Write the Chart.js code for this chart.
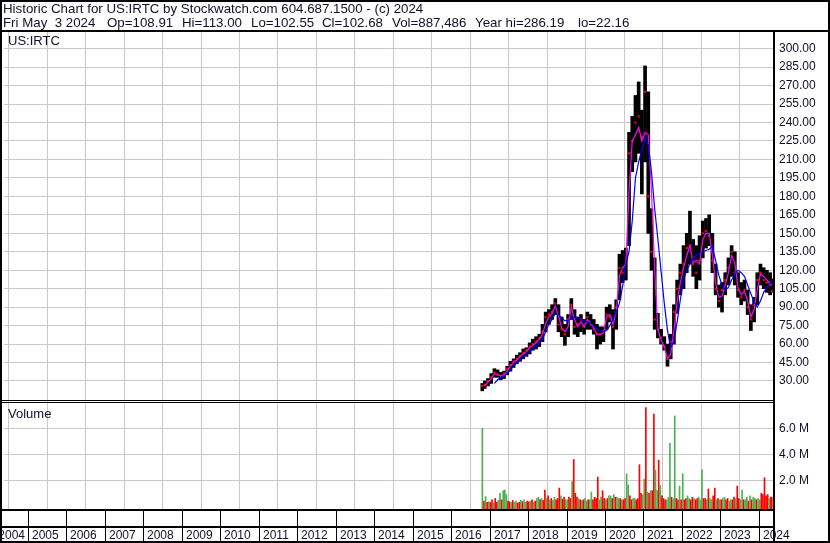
<!DOCTYPE html>
<html><head><meta charset="utf-8">
<script src="https://cdn.jsdelivr.net/npm/chart.js@4.4.1/dist/chart.umd.min.js"></script>
<style>
html,body{margin:0;padding:0;background:#fff;}
#wrap{position:relative;width:830px;height:543px;overflow:hidden;background:#fff;}
#c{position:absolute;left:0;top:0;}
.t{position:absolute;font-family:"Liberation Sans",Arial,sans-serif;font-size:13.3px;line-height:15px;color:#101028;white-space:pre;}
</style></head><body>
<div id="wrap">
<canvas id="c" width="830" height="543" style="width:830px;height:543px"></canvas>
<div class="t" style="left:3px;top:1px">Historic Chart for US:IRTC by Stockwatch.com 604.687.1500 - (c) 2024</div>
<div class="t" style="left:3px;top:15px">Fri May  3 2024</div>
<div class="t" style="left:107px;top:15px">Op=108.91</div>
<div class="t" style="left:182px;top:15px">Hi=113.00</div>
<div class="t" style="left:251px;top:15px">Lo=102.55</div>
<div class="t" style="left:322px;top:15px">Cl=102.68</div>
<div class="t" style="left:392px;top:15px">Vol=887,486</div>
<div class="t" style="left:475px;top:15px">Year hi=286.19</div>
<div class="t" style="left:578px;top:15px">lo=22.16</div>
<div class="t" style="left:8px;top:33px;font-size:13px">US:IRTC</div>
<div class="t" style="left:8px;top:406px;font-size:13px">Volume</div>
</div>
<script>
// ---- categories ----
const months = [
 "2016-10","2016-11","2016-12",
 "2017-01","2017-02","2017-03","2017-04","2017-05","2017-06","2017-07","2017-08","2017-09","2017-10","2017-11","2017-12",
 "2018-01","2018-02","2018-03","2018-04","2018-05","2018-06","2018-07","2018-08","2018-09","2018-10","2018-11","2018-12",
 "2019-01","2019-02","2019-03","2019-04","2019-05","2019-06","2019-07","2019-08","2019-09","2019-10","2019-11","2019-12",
 "2020-01","2020-02","2020-03","2020-04","2020-05","2020-06","2020-07","2020-08","2020-09","2020-10","2020-11","2020-12",
 "2021-01","2021-02","2021-03","2021-04","2021-05","2021-06","2021-07","2021-08","2021-09","2021-10","2021-11","2021-12",
 "2022-01","2022-02","2022-03","2022-04","2022-05","2022-06","2022-07","2022-08","2022-09","2022-10","2022-11","2022-12",
 "2023-01","2023-02","2023-03","2023-04","2023-05","2023-06","2023-07","2023-08","2023-09","2023-10","2023-11","2023-12",
 "2024-01","2024-02","2024-03","2024-04","2024-05"];
const firstDay = 2016.80;   // first trading day (Oct 2016)
const lastDay = 2024.336;   // May 3 2024
const yearLabels = ["2004","2005","2006","2007","2008","2009","2010","2011","2012","2013","2014","2015","2016","2017","2018","2019","2020","2021","2022","2023","2024"];
const priceTicks = [30,45,60,75,90,105,120,135,150,165,180,195,210,225,240,255,270,285,300];
const volumeTicks = [2,4,6];

// ---- monthly price range ----
const priceLow = [
 22,24,26,
 28,33,33,31,32,35,38,41,44,46,48,50,
 52,55,56,58,62,70,76,80,84,70,66,59,
 66,80,68,66,70,68,72,72,68,56,60,62,
 72,78,56,72,96,110,112,140,200,208,215,182,
 208,150,120,72,65,60,55,42,48,60,85,100,
 105,118,125,115,105,112,130,138,140,118,100,90,
 86,100,108,115,108,98,92,95,84,71,78,92,
 108,105,102,100,102];
const priceHigh = [
 28,30,32,
 36,40,39,37,38,42,46,48,51,53,56,57,
 61,64,66,68,76,86,88,92,97,92,82,76,
 84,97,88,82,84,80,86,84,80,76,74,74,
 90,92,88,96,133,136,138,232,245,262,273,250,
 286,265,170,130,85,72,66,60,68,92,112,125,
 140,150,168,145,140,148,160,162,165,150,125,108,
 110,118,130,140,135,118,110,112,104,92,98,118,
 125,122,120,118,113];
const priceClose = [
 26,27,30,
 33,37,35,34,36,40,43,46,48,50,53,55,
 58,60,62,65,70,82,84,86,93,76,72,68,
 80,92,74,76,80,74,82,76,72,68,68,70,
 84,82,74,90,122,118,125,215,225,240,245,228,
 265,180,135,80,72,65,58,48,62,86,105,118,
 125,138,140,125,118,128,150,152,148,128,105,95,
 104,112,122,135,118,104,98,104,90,80,92,112,
 118,112,110,108,103];
// ---- moving averages (magenta = short, blue = long) ----
const maShort = [
 null,26,29,
 32,36,35.5,34,35,38,42,45,47,50,52,54,
 57,59,61,64,68,77,82,85,91,83,73,70,
 74,90,80,74,78,74,80,77,73,68,68,69,
 82,84,76,86,115,122,125,185,225,230,236,225,
 232,230,185,120,72,63,58,48,52,71,95,110,
 122,132,140,126,128,125,145,150,150,132,110,98,
 99,108,118,132,126,106,100,103,95,82,88,104,
 117,115,112,109,108];
const maLong = [
 null,null,null,
 null,28,31,33,34,36,39,42,45,47,50,51,
 54,56,58,61,64,70,76,80,85,84,81,79,
 79,81,82,81,80,79,78,77,75,72,71,70,
 71,75,80,86,93,107,125,135,160,195,208,218,
 227,222,200,170,145,119,93,71,57,62,78,96,
 112,120,125,130,132,134,135,136,137,139,128,116,
 108,104,106,112,117,120,118,115,108,101,94,90,
 95,102,106,109,111];

// ---- semi-monthly volume (millions) from second half of Oct 2016 ----
const volume = [
 6.0,0.4,0.75,0.3,0.35,
 0.3,0.5,0.25,0.6,0.3,0.45,1.0,0.5,1.2,1.25,0.9,0.4,0.35,0.3,0.45,0.3,0.4,0.25,0.3,0.45,0.35,0.5,0.3,0.4,
 0.35,0.4,0.5,0.3,0.4,0.6,0.7,0.5,0.6,0.45,1.25,0.6,0.8,0.5,0.6,0.45,0.7,0.5,0.6,1.4,0.8,0.55,0.7,0.5,
 0.5,0.7,0.6,1.9,3.6,1.0,0.7,0.6,0.5,0.45,0.5,0.6,0.4,0.5,0.5,1.1,0.5,0.7,0.6,2.25,0.5,0.7,1.2,0.6,
 0.5,0.6,0.8,0.8,0.6,0.9,0.7,0.7,0.6,0.6,0.5,0.5,0.6,2.5,1.65,0.8,0.5,0.6,0.6,0.5,0.6,3.2,1.0,0.9,
 2.1,7.6,1.1,1.0,1.2,1.2,7.1,2.8,1.2,3.55,1.6,0.8,0.6,0.5,0.5,0.7,4.85,0.7,0.6,6.95,0.6,0.5,1.55,0.5,
 2.5,0.5,0.6,0.8,0.6,0.5,0.7,0.6,0.5,0.6,0.7,0.5,2.8,0.6,0.6,0.5,1.33,0.6,0.5,0.8,1.4,0.5,0.6,0.5,
 0.5,0.6,0.7,0.5,0.6,0.4,0.5,0.5,0.7,0.6,1.55,0.6,0.5,1.25,0.5,0.5,0.7,0.4,0.8,0.5,0.7,0.6,0.5,0.6,
 0.5,1.0,0.9,2.2,0.8,0.9,0.6,0.7,0.7];
const volumeDir = [
 'u','d','u','d','u',
 'd','d','u','d','d','u','u','d','u','u','u','d','d','u','d','u','u','d','d','u','d','u','u','d',
 'd','u','d','u','d','u','u','d','u','d','d','u','d','u','d','u','u','d','d','d','u','d','d','u',
 'u','d','d','u','d','d','d','u','d','u','d','u','u','d','u','u','d','d','d','d','u','u','d','d',
 'u','d','u','u','d','u','d','u','u','d','u','d','d','u','u','d','d','u','u','d','d','d','d','u',
 'u','d','u','d','u','d','d','u','u','d','u','d','d','d','u','u','u','d','u','u','d','d','u','d',
 'u','d','d','u','u','d','d','u','d','d','u','u','u','d','d','u','d','u','u','d','d','u','d','u',
 'd','u','u','d','d','u','u','d','d','u','d','d','u','u','d','u','u','d','u','d','u','u','d','u',
 'u','d','d','d','d','d','u','d','d'];

// ---- build tables ----
function monthTime(s) {
  const [y, m] = s.split('-').map(Number);
  return Math.min(Math.max(y + (m - 0.5) / 12, firstDay + 0.01), lastDay);
}
const mt = months.map(monthTime);
const barData = mt.map((t, i) => ({x: t, y: [priceLow[i], priceHigh[i]]}));
const closeData = mt.map((t, i) => ({x: t, y: priceClose[i]}));
const shortData = mt.map((t, i) => ({x: t, y: maShort[i]}));
const longData = mt.map((t, i) => ({x: t, y: maLong[i]}));
const volData = volume.map((v, i) => {
  const h = i + 1; // half-month index counted from first half of Oct 2016
  const t = 2016 + 9 / 12 + (h + 0.5) / 24;
  return {x: Math.min(t, lastDay), y: v};
});
const volColors = volumeDir.map(d => d === 'u' ? '#4cb050' : '#ff0000');

const TXT = '#101028';
const FONT = '"Liberation Sans", Arial, sans-serif';

const frame = {
  id: 'frame',
  afterDraw(chart) {
    const ctx = chart.ctx, a = chart.chartArea, xs = chart.scales.x, yp = chart.scales.y;
    const W = chart.width, H = chart.height;
    ctx.save();
    ctx.fillStyle = '#000';
    ctx.fillRect(0, 0, W, 2);
    ctx.fillRect(0, 0, 2, H);
    ctx.fillRect(W - 2, 0, 2, H);
    ctx.fillRect(0, H - 2, W, 2);
    ctx.fillRect(0, a.top - 2, W, 2);
    const sep = Math.round(yp.bottom);
    ctx.fillRect(0, sep - 1, a.right, 1);
    ctx.fillRect(0, sep + 1, a.right, 1);
    ctx.fillRect(0, a.bottom, a.right, 2);
    const rowY = a.bottom + 17;
    ctx.fillRect(0, rowY, a.right, 2);
    ctx.font = '12px ' + FONT;
    ctx.textBaseline = 'alphabetic';
    ctx.textAlign = 'left';
    yearLabels.forEach((lab, i) => {
      const yr = Number(lab);
      const px = Math.round(xs.getPixelForValue(yr));
      if (px > a.left && px < a.right) {
        ctx.fillStyle = '#000';
        ctx.fillRect(px, a.bottom + 2, 1, H - a.bottom - 4);
      }
      ctx.fillStyle = TXT;
      let lx = px + 4;
      if (i === 0) lx = Math.round(xs.getPixelForValue(yr + 1)) - 3 - ctx.measureText(lab).width;
      ctx.fillText(lab, lx, H - 4);
    });
    ctx.fillStyle = '#000';
    ctx.fillRect(a.right, a.top - 2, 2, H - a.top + 2);
    ctx.restore();
  }
};

new Chart(document.getElementById('c'), {
  type: 'bar',
  data: {
    datasets: [
      {type: 'line', data: longData, yAxisID: 'y', borderColor: '#0000ff', borderWidth: 1.2, pointRadius: 0, tension: 0, order: 1},
      {type: 'line', data: shortData, yAxisID: 'y', borderColor: '#ff00ff', borderWidth: 1.2, pointRadius: 0, tension: 0, order: 2},
      {type: 'scatter', data: closeData, yAxisID: 'y', backgroundColor: '#ff0000', borderWidth: 0, pointStyle: 'rect', pointRadius: 1.5, order: 3},
      {type: 'bar', data: barData, yAxisID: 'y', backgroundColor: '#000', barThickness: 3, grouped: false, order: 4},
      {type: 'bar', data: volData, yAxisID: 'yv', backgroundColor: volColors, barThickness: 1, grouped: false, base: -0.2, order: 5}
    ]
  },
  options: {
    responsive: false,
    animation: false,
    devicePixelRatio: 1,
    layout: {padding: {left: 2, top: 32, right: 0, bottom: 0}},
    plugins: {legend: {display: false}, tooltip: {enabled: false}},
    scales: {
      x: {
        type: 'linear', position: 'bottom', min: 2004.378, max: 2024.367, offset: false,
        afterBuildTicks: s => { s.ticks = yearLabels.slice(1).map(v => ({value: Number(v)})); },
        afterFit: s => { s.height = 34; },
        grid: {color: '#c8c8c8', lineWidth: 1, drawTicks: false},
        border: {display: false},
        ticks: {display: false}
      },
      y: {
        type: 'linear', position: 'right', stack: 'panels', stackWeight: 369,
        min: 13.75, max: 313.56,
        afterBuildTicks: s => { s.ticks = priceTicks.map(v => ({value: v})); },
        afterFit: s => { s.width = 57; },
        grid: {color: '#c8c8c8', lineWidth: 1, drawTicks: false},
        border: {display: false},
        ticks: {color: TXT, font: {family: FONT, size: 12}, padding: 6, autoSkip: false, callback: v => v.toFixed(2)}
      },
      yv: {
        type: 'linear', position: 'right', stack: 'panels', stackWeight: 108,
        min: -0.208, max: 8.1,
        afterBuildTicks: s => { s.ticks = volumeTicks.map(v => ({value: v})); },
        afterFit: s => { s.width = 57; },
        grid: {color: '#c8c8c8', lineWidth: 1, drawTicks: false},
        border: {display: false},
        ticks: {color: TXT, font: {family: FONT, size: 12}, padding: 6, autoSkip: false, callback: v => v.toFixed(1) + ' M'}
      }
    }
  },
  plugins: [frame]
});
</script>
</body></html>
